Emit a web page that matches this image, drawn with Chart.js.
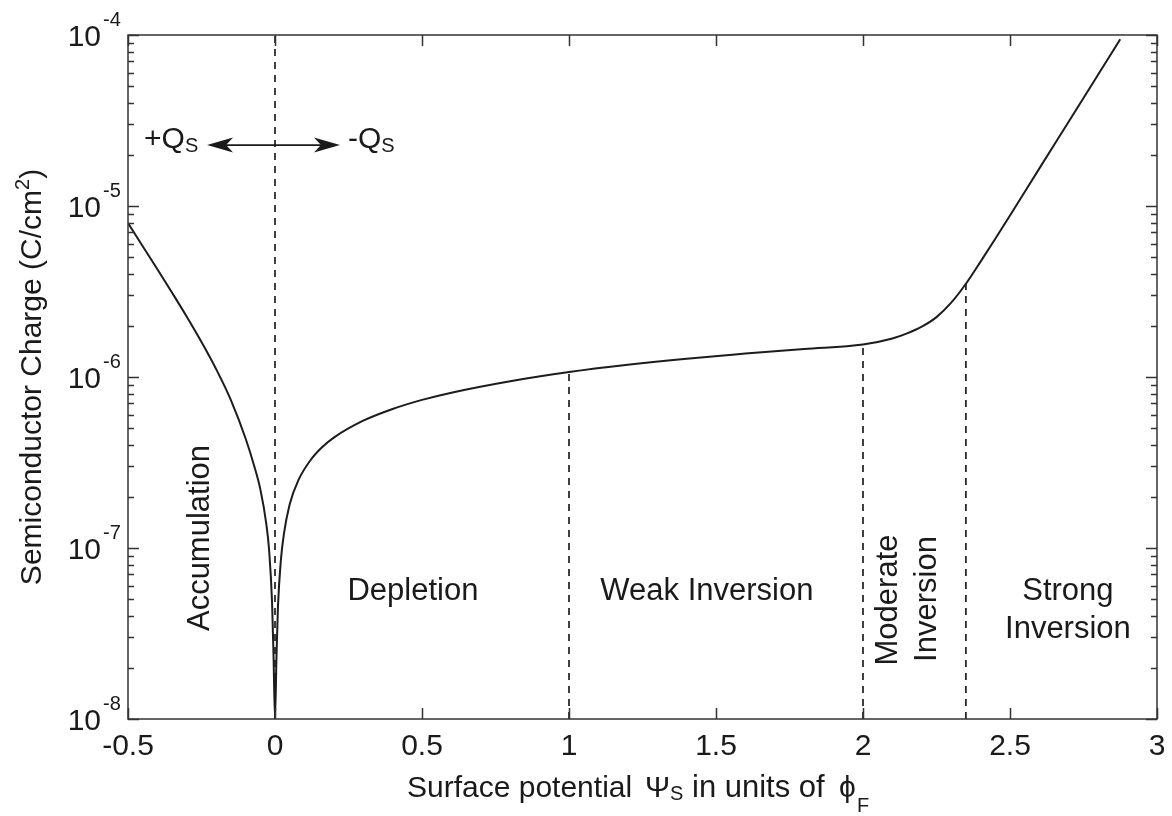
<!DOCTYPE html>
<html>
<head>
<meta charset="utf-8">
<title>Semiconductor charge vs surface potential</title>
<script src="https://cdn.jsdelivr.net/npm/chart.js@4.4.1/dist/chart.umd.min.js"></script>
<style>
  html, body { margin: 0; padding: 0; background: #fff; }
  #wrap { width: 1172px; height: 816px; }
</style>
</head>
<body>
<div id="wrap"><canvas id="qsChart" width="1172" height="816"></canvas></div>
<script>
// surface potential in units of phi_F, and |Qs| in C/cm^2
const psi = [-0.5, -0.45, -0.4, -0.35, -0.3, -0.25, -0.2, -0.15, -0.1, -0.07, -0.05, -0.03, -0.02, -0.01, -0.005,
  0, 0.005, 0.01, 0.02, 0.03, 0.05, 0.08, 0.12, 0.16, 0.2, 0.3, 0.4, 0.5, 0.6, 0.8, 1.0, 1.2, 1.4, 1.6, 1.8,
  2.0, 2.1, 2.15, 2.2, 2.25, 2.3, 2.35, 2.4, 2.45, 2.5, 2.6, 2.7, 2.8, 2.875];
const charge = [7.94e-6, 5.82e-6, 4.27e-6, 3.11e-6, 2.25e-6, 1.6e-6, 1.11e-6, 7.33e-7, 4.37e-7, 2.99e-7, 2.21e-7, 1.4e-7, 9.7e-8, 4.8e-8, 2.35e-8,
  1e-8, 2.3e-8, 4.5e-8, 8.5e-8, 1.2e-7, 1.8e-7, 2.5e-7, 3.25e-7, 3.88e-7, 4.42e-7, 5.55e-7, 6.5e-7, 7.35e-7, 8.1e-7, 9.45e-7, 1.07e-6, 1.18e-6, 1.28e-6, 1.37e-6, 1.46e-6,
  1.55e-6, 1.68e-6, 1.8e-6, 1.97e-6, 2.24e-6, 2.72e-6, 3.51e-6, 4.73e-6, 6.43e-6, 8.79e-6, 1.66e-5, 3.12e-5, 5.88e-5, 9.44e-5];

// region boundaries (dashed lines) and how high each one reaches
const boundaryPsi = [0, 1, 2, 2.35];
const boundaryTop = [1e-4, 1.07e-6, 1.55e-6, 3.51e-6];

// double arrow for the sign of Qs
const arrowPsi = [-0.231, 0.221];
const arrowCharge = 2.27e-5;

const xTickValues = [-0.5, 0, 0.5, 1, 1.5, 2, 2.5, 3];
const xTickLabels = ['-0.5', '0', '0.5', '1', '1.5', '2', '2.5', '3'];
const yTickExponents = [-8, -7, -6, -5, -4];

const regionNames = ['Accumulation', 'Depletion', 'Weak Inversion', 'Moderate', 'Inversion', 'Strong', 'Inversion'];

const FONT = "'Liberation Sans', Arial, Helvetica, sans-serif";
const INK = '#1a1a1a';

// draws a run of text pieces one after another; each piece: [text, size, dy]
function drawRun(ctx, pieces, x, y) {
  let cx = x;
  pieces.forEach(([t, size, dy]) => {
    ctx.font = size + 'px ' + FONT;
    ctx.fillText(t, cx, y + dy);
    cx += ctx.measureText(t).width;
  });
  return cx;
}
function runWidth(ctx, pieces) {
  let w = 0;
  pieces.forEach(([t, size]) => { ctx.font = size + 'px ' + FONT; w += ctx.measureText(t).width; });
  return w;
}

function arrowHead(ctx, tipX, y, dir) {
  const len = 26, half = 7.5, notch = 7;
  ctx.beginPath();
  ctx.moveTo(tipX, y);
  ctx.lineTo(tipX + dir * len, y - half);
  ctx.lineTo(tipX + dir * (len - notch), y);
  ctx.lineTo(tipX + dir * len, y + half);
  ctx.closePath();
  ctx.fill();
}

const decorPlugin = {
  id: 'decor',
  afterDraw(chart) {
    const ctx = chart.ctx;
    const xs = chart.scales.x, ys = chart.scales.y;
    const a = chart.chartArea;
    ctx.save();
    ctx.strokeStyle = '#333';
    ctx.fillStyle = INK;
    ctx.lineWidth = 1.5;

    // box
    ctx.strokeRect(a.left, a.top, a.right - a.left, a.bottom - a.top);

    // x ticks, bottom and top, pointing inward
    ctx.beginPath();
    xTickValues.forEach(v => {
      const px = Math.round(xs.getPixelForValue(v)) + 0.5;
      ctx.moveTo(px, a.bottom); ctx.lineTo(px, a.bottom - 11);
      ctx.moveTo(px, a.top); ctx.lineTo(px, a.top + 11);
    });
    // y ticks, log major and minor, left and right
    yTickExponents.forEach((e, i) => {
      for (let m = 1; m <= 9; m++) {
        if (m > 1 && i === yTickExponents.length - 1) break;
        const py = Math.round(ys.getPixelForValue(m * Math.pow(10, e))) + 0.5;
        const len = m === 1 ? 11 : 6;
        ctx.moveTo(a.left, py); ctx.lineTo(a.left + len, py);
        ctx.moveTo(a.right, py); ctx.lineTo(a.right - len, py);
      }
    });
    ctx.stroke();

    // y tick labels 10^k
    yTickExponents.forEach(e => {
      const py = ys.getPixelForValue(Math.pow(10, e));
      ctx.font = '30px ' + FONT;
      ctx.textAlign = 'right';
      ctx.textBaseline = 'alphabetic';
      ctx.fillText('10', a.left - 27, py + 11);
      ctx.font = '20px ' + FONT;
      ctx.textAlign = 'left';
      ctx.fillText(String(e), a.left - 25, py - 9);
    });

    // axis titles
    ctx.textAlign = 'left';
    ctx.textBaseline = 'alphabetic';
    ctx.font = '30px ' + FONT;
    ctx.fillText('Surface potential', 407, 797);
    ctx.fillText('\u03A8', 645, 797);
    ctx.font = '31px ' + FONT;
    ctx.fillText('in units of', 692, 797);
    ctx.font = '30px ' + FONT;
    ctx.fillText('\u03D5', 839, 797);
    ctx.font = '20px ' + FONT;
    ctx.fillText('S', 670, 800);
    ctx.fillText('F', 857, 812);

    const yTitle = [['Semiconductor Charge (C/cm', 30, 0], ['2', 20, -12], [')', 30, 0]];
    ctx.save();
    ctx.translate(41, (a.top + a.bottom) / 2);
    ctx.rotate(-Math.PI / 2);
    drawRun(ctx, yTitle, -runWidth(ctx, yTitle) / 2, 0);
    ctx.restore();

    // region names
    ctx.font = '31px ' + FONT;
    ctx.textAlign = 'center';
    ctx.textBaseline = 'middle';
    const vText = (t, x, y) => {
      ctx.save();
      ctx.translate(x, y);
      ctx.rotate(-Math.PI / 2);
      ctx.fillText(t, 0, 0);
      ctx.restore();
    };
    vText(regionNames[0], xs.getPixelForValue(-0.255), a.top + 503);
    ctx.fillText(regionNames[1], xs.getPixelForValue(0.469), a.top + 556);
    ctx.fillText(regionNames[2], xs.getPixelForValue(1.469), a.top + 556);
    vText(regionNames[3], xs.getPixelForValue(2.088), a.top + 565);
    vText(regionNames[4], xs.getPixelForValue(2.218), a.top + 564);
    ctx.textBaseline = 'alphabetic';
    ctx.fillText(regionNames[5], xs.getPixelForValue(2.697), a.top + 565);
    ctx.fillText(regionNames[6], xs.getPixelForValue(2.697), a.top + 603);

    // sign arrow and its labels
    const ay = ys.getPixelForValue(arrowCharge);
    const x0 = xs.getPixelForValue(arrowPsi[0]);
    const x1 = xs.getPixelForValue(arrowPsi[1]);
    ctx.strokeStyle = INK;
    ctx.lineWidth = 1.6;
    ctx.beginPath();
    ctx.moveTo(x0 + 15, ay); ctx.lineTo(x1 - 15, ay);
    ctx.stroke();
    arrowHead(ctx, x0, ay, 1);
    arrowHead(ctx, x1, ay, -1);
    ctx.textAlign = 'left';
    drawRun(ctx, [['+Q', 30, 0], ['S', 20, 4]], x0 - 63, ay + 3);
    drawRun(ctx, [['-Q', 30, 0], ['S', 20, 4]], x1 + 8, ay + 3);

    ctx.restore();
  }
};

const datasets = [{
  data: psi.map((p, i) => ({ x: p, y: charge[i] })),
  borderColor: '#1c1c1c',
  borderWidth: 2,
  pointRadius: 0,
  cubicInterpolationMode: 'monotone',
  fill: false
}];
boundaryPsi.forEach((b, i) => {
  datasets.push({
    data: [{ x: b, y: 1e-8 }, { x: b, y: boundaryTop[i] }],
    borderColor: '#111',
    borderWidth: 1.6,
    borderDash: [7, 6],
    pointRadius: 0,
    fill: false
  });
});

new Chart(document.getElementById('qsChart').getContext('2d'), {
  type: 'line',
  data: { datasets },
  options: {
    responsive: false,
    animation: false,
    devicePixelRatio: 1,
    layout: { padding: { left: 0, right: 15, top: 35, bottom: 0 } },
    plugins: { legend: { display: false }, tooltip: { enabled: false } },
    scales: {
      x: {
        type: 'linear',
        min: -0.5,
        max: 3,
        afterBuildTicks: s => { s.ticks = xTickValues.map(v => ({ value: v })); },
        afterFit: s => { s.height = 97; },
        grid: { display: false },
        border: { display: false },
        ticks: {
          autoSkip: false,
          maxRotation: 0,
          padding: 2,
          color: INK,
          font: { family: FONT, size: 30 },
          callback: v => xTickLabels[xTickValues.indexOf(v)]
        }
      },
      y: {
        type: 'logarithmic',
        min: 1e-8,
        max: 1e-4,
        afterFit: s => { s.width = 128; },
        grid: { display: false },
        border: { display: false },
        ticks: { display: false }
      }
    }
  },
  plugins: [decorPlugin]
});
</script>
</body>
</html>
